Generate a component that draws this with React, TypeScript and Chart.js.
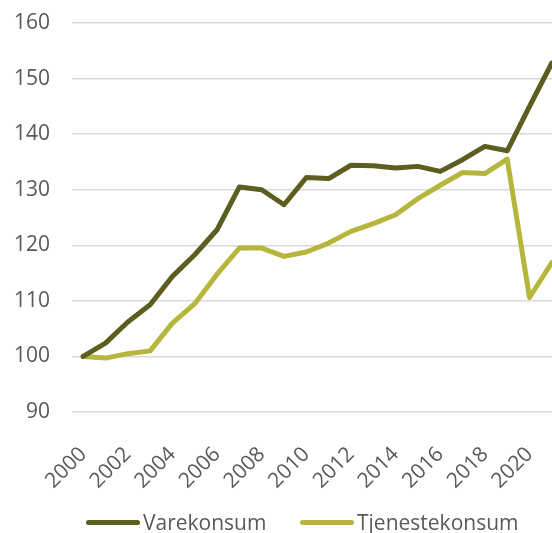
import React, { useEffect, useRef } from "react";
import { Chart, registerables } from "chart.js";

Chart.register(...registerables);

const years = [
  "2000", "2001", "2002", "2003", "2004", "2005", "2006", "2007", "2008", "2009", "2010",
  "2011", "2012", "2013", "2014", "2015", "2016", "2017", "2018", "2019", "2020", "2021",
];

const varekonsum = [
  100, 102.4, 106.2, 109.3, 114.4, 118.3, 122.8, 130.5, 130.0, 127.3, 132.2,
  132.0, 134.4, 134.3, 133.9, 134.2, 133.3, 135.4, 137.8, 137.0, 145.0, 152.8,
];

const tjenestekonsum = [
  100, 99.7, 100.5, 101.0, 106.0, 109.5, 114.8, 119.5, 119.5, 118.0, 118.8,
  120.4, 122.5, 123.9, 125.5, 128.4, 130.8, 133.1, 132.9, 135.5, 110.6, 116.9,
];

const seriesNames = ["Varekonsum", "Tjenestekonsum"];
const seriesColors = ["#5c5d1f", "#b7b63c"];

const FONT = "'Open Sans', 'Liberation Sans', sans-serif";
const TEXT = "#595959";

const zeroPadding = (s: any) => {
  s.paddingLeft = 0;
  s.paddingRight = 0;
  s.paddingTop = 0;
  s.paddingBottom = 0;
};

export default function App() {
  const ref = useRef<HTMLCanvasElement | null>(null);

  useEffect(() => {
    if (!ref.current) return;
    const chart = new Chart(ref.current, {
      type: "line",
      data: {
        labels: years,
        datasets: [
          {
            label: seriesNames[0],
            data: varekonsum,
            borderColor: seriesColors[0],
            backgroundColor: seriesColors[0],
            borderWidth: 5,
            pointRadius: 0,
            tension: 0,
            borderJoinStyle: "round",
            borderCapStyle: "round",
          },
          {
            label: seriesNames[1],
            data: tjenestekonsum,
            borderColor: seriesColors[1],
            backgroundColor: seriesColors[1],
            borderWidth: 5,
            pointRadius: 0,
            tension: 0,
            borderJoinStyle: "round",
            borderCapStyle: "round",
          },
        ],
      },
      options: {
        responsive: false,
        animation: false,
        layout: { padding: { top: 23, right: 0, bottom: 0, left: 0 } },
        plugins: {
          legend: { display: false },
          tooltip: { enabled: false },
        },
        scales: {
          x: {
            type: "category",
            offset: true,
            grid: { display: false, drawTicks: false },
            border: { display: false },
            ticks: {
              autoSkip: false,
              minRotation: 45,
              maxRotation: 45,
              padding: 30,
              color: TEXT,
              font: { family: FONT, size: 21 },
              callback: (_v: any, i: number) => (i % 2 === 0 ? years[i] : ""),
            },
            afterFit: (s: any) => {
              s.height = 121;
              zeroPadding(s);
            },
          },
          y: {
            min: 90,
            max: 160,
            grid: { color: "#d9d9d9", lineWidth: 1.5, drawTicks: false },
            border: { display: false },
            ticks: {
              stepSize: 10,
              padding: 22,
              color: TEXT,
              font: { family: FONT, size: 21 },
            },
            afterFit: (s: any) => {
              s.width = 72;
              zeroPadding(s);
            },
          },
        },
      },
    });
    return () => chart.destroy();
  }, []);

  const legendItem = (i: number, left: number) => (
    <div
      style={{
        position: "absolute",
        left,
        top: 508,
        height: 28,
        display: "flex",
        alignItems: "center",
        fontFamily: FONT,
        fontSize: 21,
        color: TEXT,
        whiteSpace: "nowrap",
      }}
    >
      <div
        style={{
          width: 54,
          height: 5,
          borderRadius: 3,
          background: seriesColors[i],
          marginRight: 3,
        }}
      />
      <span>{seriesNames[i]}</span>
    </div>
  );

  return (
    <div
      style={{
        position: "fixed",
        left: 0,
        top: 0,
        width: 552,
        height: 533,
        overflow: "hidden",
        background: "#fff",
      }}
    >
      <canvas ref={ref} width={563} height={533} style={{ display: "block" }} />
      {legendItem(0, 86)}
      {legendItem(1, 300)}
    </div>
  );
}
